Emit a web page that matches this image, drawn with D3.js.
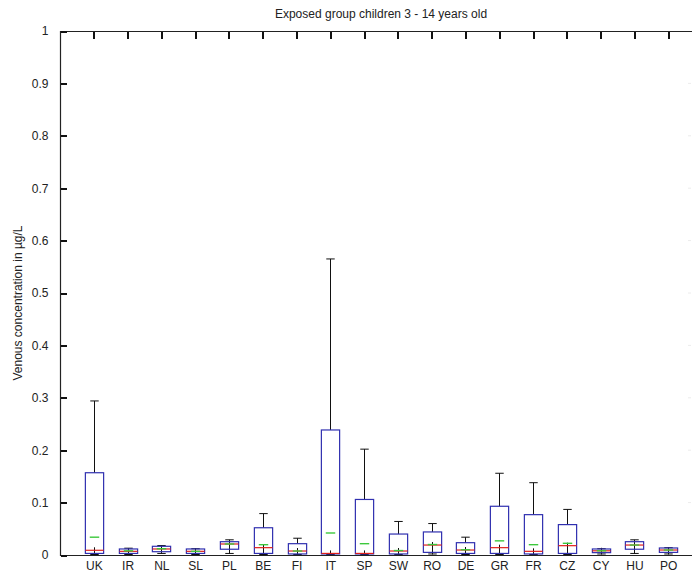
<!DOCTYPE html>
<html>
<head>
<meta charset="utf-8">
<script src="https://cdn.jsdelivr.net/npm/d3@7"></script>
<style>
  body { margin: 0; background: #fff; }
  svg { display: block; font-family: "Liberation Sans", Arial, sans-serif; }
  .axis path { stroke: none; }
  .axis line { stroke: #111; stroke-width: 2; shape-rendering: crispEdges; }
  .axis text { fill: #222; font-size: 12px; font-family: "Liberation Sans", Arial, sans-serif; }
</style>
</head>
<body>
<svg id="chart" width="692" height="578"></svg>
<script>
// values (µg/L)
const countries = ["UK", "IR", "NL", "SL", "PL", "BE", "FI", "IT", "SP", "SW", "RO", "DE", "GR", "FR", "CZ", "CY", "HU", "PO"];
const whiskerHigh = [0.294, 0.013, 0.018, 0.012, 0.029, 0.079, 0.032, 0.565, 0.202, 0.064, 0.060, 0.034, 0.156, 0.138, 0.087, 0.012, 0.029, 0.014];
const upperQuartile = [0.157, 0.0115, 0.0166, 0.0115, 0.0254, 0.052, 0.0216, 0.2386, 0.106, 0.040, 0.044, 0.0235, 0.093, 0.077, 0.058, 0.0115, 0.0254, 0.0134];
const medians = [0.009, 0.007, 0.0115, 0.007, 0.021, 0.014, 0.0076, 0.003, 0.003, 0.0076, 0.019, 0.0095, 0.014, 0.007, 0.0178, 0.008, 0.019, 0.0095];
const means = [0.034, 0.008, 0.012, 0.007, 0.021, 0.0197, 0.0076, 0.042, 0.0216, 0.0085, 0.020, 0.010, 0.027, 0.0197, 0.0223, 0.008, 0.019, 0.0095];
const lowerQuartile = [0.003, 0.003, 0.0063, 0.003, 0.011, 0.003, 0.002, 0.002, 0.002, 0.002, 0.005, 0.003, 0.003, 0.002, 0.003, 0.0045, 0.011, 0.005];
const whiskerLow = [0, 0, 0.002, 0, 0.002, 0, 0, 0, 0, 0, 0.001, 0, 0, 0, 0, 0.001, 0.002, 0.001];
const yTicks = [0, 0.1, 0.2, 0.3, 0.4, 0.5, 0.6, 0.7, 0.8, 0.9, 1];

const svg = d3.select("#chart");
const plotLeft = 60, plotTop = 31, plotBottom = 555, plotRight = 702;

// axes run past the picture on the right, like the cropped original
const x = d3.scaleLinear().domain([0, countries.length + 1]).range([plotLeft, plotRight]);
const y = d3.scaleLinear().domain([0, 1]).range([plotBottom, plotTop]);
const positions = countries.map((c, i) => i + 1);

const axisColor = "#222";
const boxHalf = x(0.27) - x(0);
const capHalf = x(0.125) - x(0);
const meanHalf = x(0.14) - x(0);

// frame
svg.append("path")
  .attr("d", `M${plotRight},${plotTop + 0.5}H${plotLeft + 0.5}V${plotBottom + 0.5}H${plotRight}`)
  .attr("fill", "none").attr("stroke", axisColor).attr("stroke-width", 1.2);

// y axis, ticks pointing inward
svg.append("g").attr("class", "axis")
  .attr("transform", `translate(${plotLeft + 0.5},0)`)
  .call(d3.axisLeft(y).tickValues(yTicks).tickFormat(d3.format("~g")).tickSizeInner(-6).tickSizeOuter(0).tickPadding(12));

// bottom axis labels (no visible ticks in the original)
svg.append("g").attr("class", "axis")
  .attr("transform", `translate(0,${plotBottom})`)
  .call(d3.axisBottom(x).tickValues(positions).tickFormat(d => countries[d - 1]).tickSizeInner(0).tickSizeOuter(0).tickPadding(6));

// top axis, ticks only, pointing down
svg.append("g").attr("class", "axis")
  .attr("transform", `translate(0,${plotTop + 0.5})`)
  .call(d3.axisTop(x).tickValues(positions).tickFormat("").tickSizeInner(-7).tickSizeOuter(0));

// faint ghost marks at the right edge of the scan
svg.append("g").selectAll("line")
  .data(yTicks.filter(t => t > 0 && t < 1))
  .join("line")
  .attr("x1", 688).attr("x2", 691)
  .attr("y1", d => y(d)).attr("y2", d => y(d))
  .attr("stroke", "#ececec");

// boxes
const boxes = svg.append("g");
countries.forEach((c, i) => {
  const cx = Math.round(x(i + 1)) + 0.5;
  const g = boxes.append("g");
  // upper whisker
  g.append("line").attr("x1", cx).attr("x2", cx).attr("y1", y(upperQuartile[i])).attr("y2", y(whiskerHigh[i]))
    .attr("stroke", "#111");
  g.append("line").attr("x1", cx - capHalf).attr("x2", cx + capHalf).attr("y1", y(whiskerHigh[i])).attr("y2", y(whiskerHigh[i]))
    .attr("stroke", "#111");
  // lower whisker
  g.append("line").attr("x1", cx).attr("x2", cx).attr("y1", y(whiskerLow[i])).attr("y2", Math.min(y(lowerQuartile[i]), y(medians[i]) - 3))
    .attr("stroke", "#111");
  g.append("line").attr("x1", cx - capHalf).attr("x2", cx + capHalf).attr("y1", y(whiskerLow[i]) - 0.5).attr("y2", y(whiskerLow[i]) - 0.5)
    .attr("stroke", "#111");
  // box
  g.append("rect")
    .attr("x", cx - boxHalf).attr("width", boxHalf * 2)
    .attr("y", y(upperQuartile[i])).attr("height", y(lowerQuartile[i]) - y(upperQuartile[i]))
    .attr("fill", "none").attr("stroke", "#3030b0").attr("stroke-width", 1.2);
  // median
  g.append("line").attr("x1", cx - boxHalf).attr("x2", cx + boxHalf).attr("y1", y(medians[i])).attr("y2", y(medians[i]))
    .attr("stroke", "#e0201c").attr("stroke-width", 1.2);
  // mean
  g.append("line").attr("x1", cx - meanHalf).attr("x2", cx + meanHalf).attr("y1", y(means[i])).attr("y2", y(means[i]))
    .attr("stroke", "#3cc83c").attr("stroke-width", 1.4);
});

// title
svg.append("text").attr("x", (plotLeft + plotRight) / 2).attr("y", 18)
  .attr("text-anchor", "middle").attr("font-size", 12).attr("fill", "#222")
  .text("Exposed group children 3 - 14 years old");

// y label
svg.append("text")
  .attr("transform", `translate(22,${(plotTop + plotBottom) / 2 + 10}) rotate(-90)`)
  .attr("text-anchor", "middle").attr("font-size", 12).attr("fill", "#222")
  .text("Venous concentration in µg/L");
</script>
</body>
</html>
